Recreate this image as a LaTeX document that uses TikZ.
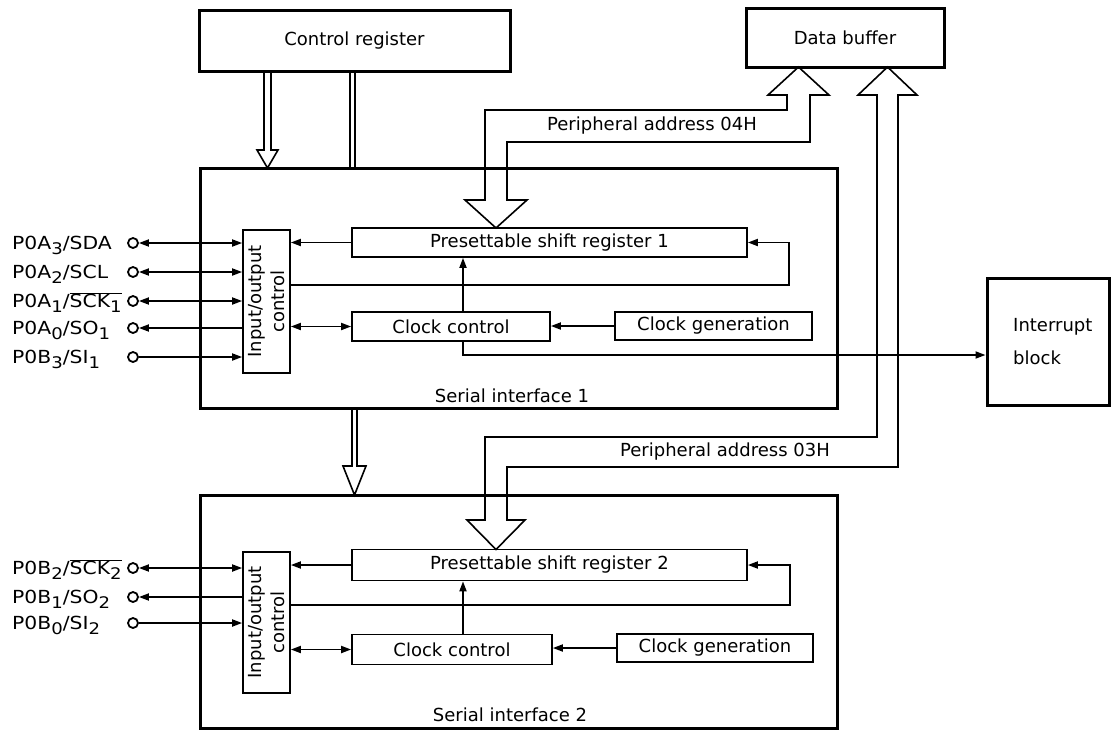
\documentclass[tikz,border=0pt]{standalone}
\usepackage{fontspec}
\setmainfont{DejaVu Sans}
\usetikzlibrary{arrows.meta,calc}
\newcommand\sbx[1]{\raisebox{-0.5ex}{\fontsize{16}{16}\selectfont #1}}
\newcommand\ovl[1]{$\overline{\hbox{#1}}$}
\newcommand\pinlab[1]{\scalebox{1.13}[1]{#1}}
\begin{document}
\begin{tikzpicture}[x=1pt,y=-1pt,
  >={Triangle[length=10pt,width=7pt]},
  outer/.style={draw,line width=3pt,inner sep=0pt},
  inner/.style={draw,line width=1.7pt,inner sep=0pt},
  txt/.style={font=\fontsize{18}{21}\selectfont,inner sep=0pt},
  conn/.style={line width=1.8pt},
  pin/.style={circle,draw,line width=1.8pt,minimum size=10pt,inner sep=0pt},
  bus/.style={line width=1.6pt,line join=miter},
]
\useasboundingbox (0,0) rectangle (1112,732);

% ---------- outer blocks
\node[outer,txt,minimum width=311pt,minimum height=61pt] (ctrl) at (354.5,40.5) {Control register};
\node[outer,txt,minimum width=198pt,minimum height=59pt] (dbuf) at (845,37.5) {Data buffer};
\node[outer,minimum width=637pt,minimum height=240pt] (si1) at (518.5,288) {};
\node[outer,minimum width=637pt,minimum height=233pt] (si2) at (518.5,611.5) {};
\node[outer,minimum width=122pt,minimum height=127pt] (intr) at (1048,341.5) {};
\node[txt,align=left,anchor=west,font=\fontsize{18}{33}\selectfont] (intrt) at (1013,341.5) {Interrupt\\block};

% ---------- serial interface 1
\node[inner,txt,minimum width=395pt,minimum height=29pt] (psr1) at (549.5,242.5) {Presettable shift register 1};
\node[inner,txt,minimum width=198pt,minimum height=29pt] (ck1) at (451,326.5) {Clock control};
\node[inner,txt,minimum width=197pt,minimum height=28pt] (cg1) at (713.5,326) {Clock generation};
\node[inner,minimum width=47pt,minimum height=143pt] (io1) at (266.5,301.5) {};
\node[txt,rotate=90,align=center,font=\fontsize{18}{23}\selectfont] (io1t) at (io1.center) {Input/output\\control};
\node[txt] (lsi1) at (512,396) {Serial interface 1};

\coordinate (v1) at (463,0);
\draw[conn,->] (ck1.north -| v1) -- (psr1.south -| v1);
\coordinate (irq) at (463,355);
\draw[conn,->] (ck1.south -| v1) -- (irq) -- (irq -| intr.west);
\draw[conn,->] (psr1.west) -- (psr1.west -| io1.east);
\coordinate (fb1) at (789,285);
\draw[conn,->] (io1.east |- fb1) -- (fb1) |- (psr1.east);
\draw[conn,<->] (ck1.west) -- (ck1.west -| io1.east);
\draw[conn,->] (cg1.west) -- (cg1.west -| ck1.east);

% pins 1
\node[pin] (pa3) at (133,243) {};
\node[txt,anchor=base west] (la3) at (12,249.5) {\pinlab{P0A\sbx{3}/SDA}};
\draw[conn,<->] (pa3.east) -- (pa3.east -| io1.west);
\node[pin] (pa2) at (133,272) {};
\node[txt,anchor=base west] (la2) at (12,278.5) {\pinlab{P0A\sbx{2}/SCL}};
\draw[conn,<->] (pa2.east) -- (pa2.east -| io1.west);
\node[pin] (pa1) at (133,301) {};
\node[txt,anchor=base west] (la1) at (12,307.5) {\pinlab{P0A\sbx{1}/\ovl{SCK\sbx{1}}}};
\draw[conn,<->] (pa1.east) -- (pa1.east -| io1.west);
\node[pin] (pa0) at (133,328) {};
\node[txt,anchor=base west] (la0) at (12,334.5) {\pinlab{P0A\sbx{0}/SO\sbx{1}}};
\draw[conn,<-] (pa0.east) -- (pa0.east -| io1.west);
\node[pin] (pb3) at (133,357) {};
\node[txt,anchor=base west] (lb3) at (12,363.5) {\pinlab{P0B\sbx{3}/SI\sbx{1}}};
\draw[conn,->] (pb3.east) -- (pb3.east -| io1.west);

% ---------- serial interface 2
\node[inner,txt,minimum width=395pt,minimum height=31pt] (psr2) at (549.5,565) {Presettable shift register 2};
\node[inner,txt,minimum width=200pt,minimum height=30pt] (ck2) at (452,649.5) {Clock control};
\node[inner,txt,minimum width=196pt,minimum height=28pt] (cg2) at (715,648) {Clock generation};
\node[inner,minimum width=47pt,minimum height=141pt] (io2) at (266.5,622.5) {};
\node[txt,rotate=90,align=center,font=\fontsize{18}{23}\selectfont] (io2t) at (io2.center) {Input/output\\control};
\node[txt] (lsi2) at (510,715) {Serial interface 2};

\draw[conn,->] (ck2.north -| v1) -- (psr2.south -| v1);
\draw[conn,->] (psr2.west) -- (psr2.west -| io2.east);
\coordinate (fb2) at (790,605);
\draw[conn,->] (io2.east |- fb2) -- (fb2) |- (psr2.east);
\draw[conn,<->] (ck2.west) -- (ck2.west -| io2.east);
\draw[conn,->] (cg2.west) -- (cg2.west -| ck2.east);

% pins 2
\node[pin] (pb2) at (133,568) {};
\node[txt,anchor=base west] (lb2) at (12,574.5) {\pinlab{P0B\sbx{2}/\ovl{SCK\sbx{2}}}};
\draw[conn,<->] (pb2.east) -- (pb2.east -| io2.west);
\node[pin] (pb1) at (133,597) {};
\node[txt,anchor=base west] (lb1) at (12,603.5) {\pinlab{P0B\sbx{1}/SO\sbx{2}}};
\draw[conn,<-] (pb1.east) -- (pb1.east -| io2.west);
\node[pin] (pb0) at (133,623) {};
\node[txt,anchor=base west] (lb0) at (12,629.5) {\pinlab{P0B\sbx{0}/SI\sbx{2}}};
\draw[conn,->] (pb0.east) -- (pb0.east -| io2.west);

% ---------- buses
\draw[bus] (485,200) -- (465,200) -- (496,228) -- (527,200) -- (507,200) -- (507,142)
  -- (810,142) -- (810,95) -- (829,95) -- (798.5,67) -- (768,95) -- (787,95) -- (787,110)
  -- (485,110) -- cycle;
\node[txt] (lb04) at (652,126) {Peripheral address 04H};

\draw[bus] (485,520) -- (467,520) -- (496,549.5) -- (525,520) -- (507,520) -- (507,467)
  -- (898,467) -- (898,95) -- (917,95) -- (887.5,67) -- (858,95) -- (877,95) -- (877,437)
  -- (485,437) -- cycle;
\node[txt] (lb03) at (725,452) {Peripheral address 03H};

% control register -> SI1
\draw[bus] (264,71) -- (264,150) -- (257,150) -- (267.5,168) -- (278,150) -- (271,150) -- (271,71);
\draw[bus] (350,71) -- (350,168);
\draw[bus] (355,71) -- (355,168);
% SI1 -> SI2
\draw[bus] (352,408) -- (352,466) -- (343,466) -- (354.5,495) -- (366,466) -- (357,466) -- (357,408);
\end{tikzpicture}
\end{document}
